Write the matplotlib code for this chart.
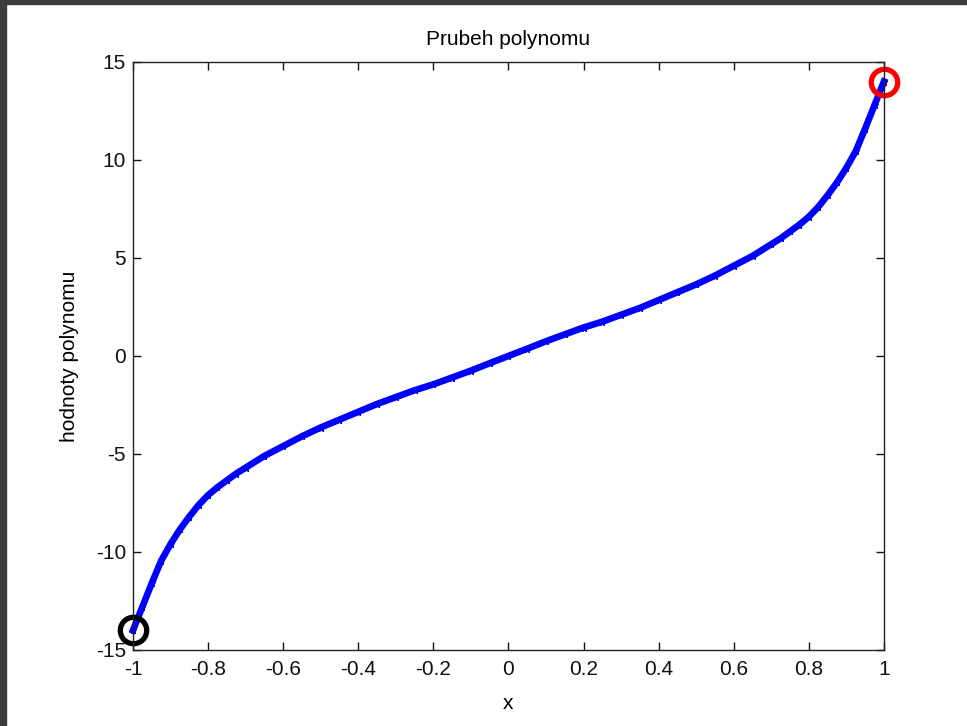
import matplotlib
matplotlib.use('Agg')
import matplotlib.pyplot as plt
from matplotlib.patches import Rectangle

# values (odd curve, right half)
x_pos = [0.0, 0.05, 0.1, 0.15, 0.2, 0.25, 0.3, 0.35, 0.4, 0.45, 0.5,
         0.55, 0.6, 0.65, 0.7, 0.725, 0.75, 0.775, 0.8, 0.825, 0.85,
         0.875, 0.9, 0.925, 0.95, 0.975, 1.0]
y_pos = [0.0, 0.37, 0.75, 1.1, 1.45, 1.75, 2.1, 2.45, 2.85, 3.25, 3.65,
         4.1, 4.6, 5.1, 5.7, 6.0, 6.35, 6.7, 7.1, 7.6, 8.2,
         8.85, 9.6, 10.45, 11.6, 12.8, 14.0]

x = [-v for v in x_pos[:0:-1]] + x_pos
y = [-v for v in y_pos[:0:-1]] + y_pos

start_pt = (-1, -14)
end_pt = (1, 14)

xticks = [-1, -0.8, -0.6, -0.4, -0.2, 0, 0.2, 0.4, 0.6, 0.8, 1]
xticklabels = ['-1', '-0.8', '-0.6', '-0.4', '-0.2', '0', '0.2', '0.4', '0.6', '0.8', '1']
yticks = [-15, -10, -5, 0, 5, 10, 15]
yticklabels = ['-15', '-10', '-5', '0', '5', '10', '15']

plt.rcParams['font.family'] = ['Liberation Sans', 'DejaVu Sans']
plt.rcParams['axes.unicode_minus'] = False

fig = plt.figure(figsize=(9.67, 7.26), dpi=100)
fig.patch.set_facecolor('white')
# dark window frame of the screenshot
fig.patches.append(Rectangle((0, 1 - 4/726), 1, 4/726, transform=fig.transFigure,
                             color='#3c3c3c', zorder=-1))
fig.patches.append(Rectangle((0, 0), 6/967, 1, transform=fig.transFigure,
                             color='#3c3c3c', zorder=-1))

ax = fig.add_axes([0.1375, 0.1047, 0.7766, 0.81])
ax.plot(x, y, '*-', color='#0000ff', markersize=5, linewidth=4.8, clip_on=False)
ax.plot(*start_pt, 'o', markersize=19, markerfacecolor='none',
        markeredgecolor='black', markeredgewidth=3.8, clip_on=False)
ax.plot(*end_pt, 'o', markersize=19, markerfacecolor='none',
        markeredgecolor='red', markeredgewidth=3.8, clip_on=False)

ax.set_xlim(-1, 1)
ax.set_ylim(-15, 15)
ax.set_xticks(xticks)
ax.set_xticklabels(xticklabels)
ax.set_yticks(yticks)
ax.set_yticklabels(yticklabels)
ax.tick_params(direction='in', top=True, right=True, length=6, width=1,
               labelsize=15, colors='#111111')
ax.tick_params(axis='x', pad=7)
ax.tick_params(axis='y', pad=5)
for s in ax.spines.values():
    s.set_color('#222222')
    s.set_linewidth(1)

ax.set_title('Prubeh polynomu', fontsize=15, pad=12)
ax.set_xlabel('x', fontsize=15, labelpad=11)
ax.set_ylabel('hodnoty polynomu', fontsize=15, labelpad=12)

fig.savefig('out.png', dpi=100)
